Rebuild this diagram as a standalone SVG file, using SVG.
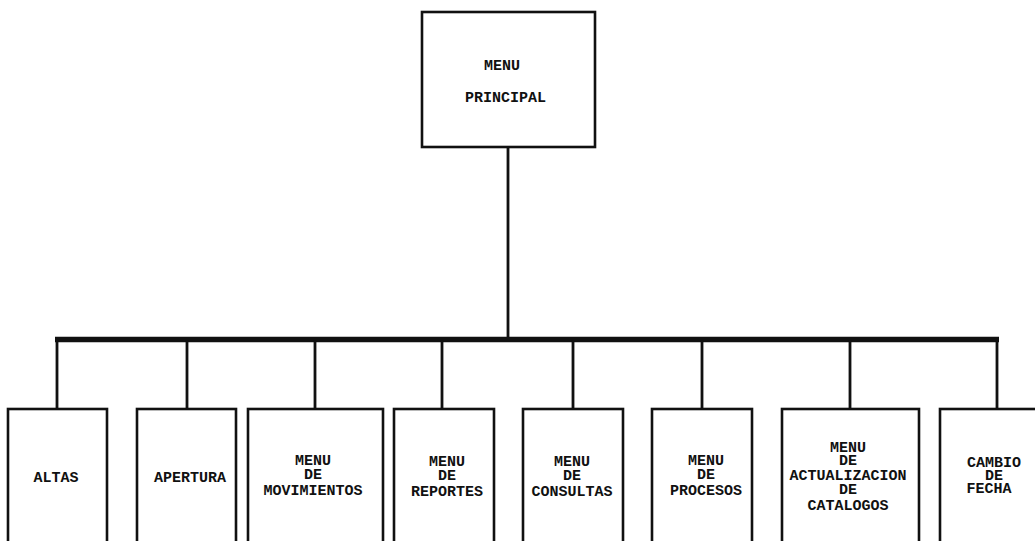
<svg xmlns="http://www.w3.org/2000/svg" width="1035" height="541" viewBox="0 0 1035 541">
  <style>
    .box { fill: #ffffff; stroke: #111111; stroke-width: 2.6; }
    .wire { stroke: #111111; stroke-width: 2.8; fill: none; }
    .bus { stroke: #111111; stroke-width: 5.5; fill: none; }
    .lbl { font-family: "Liberation Mono", "DejaVu Sans Mono", monospace; font-weight: bold; font-size: 15px; fill: #111111; text-anchor: middle; }
    .lbl-start { text-anchor: start; }
  </style>
  <rect width="1035" height="541" fill="#ffffff"/>

  <!-- connectors: stem, bus bar and drops -->
  <g id="connectors">
    <line class="wire" x1="508" y1="147" x2="508" y2="338"/>
    <line class="bus" x1="55" y1="339.5" x2="999" y2="339.5"/>
    <line class="wire" x1="57" y1="340" x2="57" y2="409"/>
    <line class="wire" x1="187" y1="340" x2="187" y2="409"/>
    <line class="wire" x1="315" y1="340" x2="315" y2="409"/>
    <line class="wire" x1="442" y1="340" x2="442" y2="409"/>
    <line class="wire" x1="573" y1="340" x2="573" y2="409"/>
    <line class="wire" x1="702" y1="340" x2="702" y2="409"/>
    <line class="wire" x1="850" y1="340" x2="850" y2="409"/>
    <line class="wire" x1="997" y1="340" x2="997" y2="409"/>
  </g>

  <g id="menu-principal">
    <rect class="box" x="422" y="12" width="173" height="135"/>
    <text class="lbl lbl-start" x="484" y="70">MENU</text>
    <text class="lbl lbl-start" x="465" y="102">PRINCIPAL</text>
  </g>

  <g id="altas">
    <rect class="box" x="8" y="409" width="99" height="150"/>
    <text class="lbl" x="56" y="482">ALTAS</text>
  </g>

  <g id="apertura">
    <rect class="box" x="137" y="409" width="99" height="150"/>
    <text class="lbl" x="190" y="482">APERTURA</text>
  </g>

  <g id="menu-movimientos">
    <rect class="box" x="248" y="409" width="135" height="150"/>
    <text class="lbl" x="313" y="465">MENU</text>
    <text class="lbl" x="313" y="479">DE</text>
    <text class="lbl" x="313" y="495">MOVIMIENTOS</text>
  </g>

  <g id="menu-reportes">
    <rect class="box" x="394" y="409" width="100" height="150"/>
    <text class="lbl" x="447" y="466">MENU</text>
    <text class="lbl" x="447" y="480">DE</text>
    <text class="lbl" x="447" y="496">REPORTES</text>
  </g>

  <g id="menu-consultas">
    <rect class="box" x="523" y="409" width="100" height="150"/>
    <text class="lbl" x="572" y="466">MENU</text>
    <text class="lbl" x="572" y="480">DE</text>
    <text class="lbl" x="572" y="496">CONSULTAS</text>
  </g>

  <g id="menu-procesos">
    <rect class="box" x="652" y="409" width="100" height="150"/>
    <text class="lbl" x="706" y="465">MENU</text>
    <text class="lbl" x="706" y="479">DE</text>
    <text class="lbl" x="706" y="495">PROCESOS</text>
  </g>

  <g id="menu-actualizacion">
    <rect class="box" x="782" y="409" width="137" height="150"/>
    <text class="lbl" x="848" y="452">MENU</text>
    <text class="lbl" x="848" y="465">DE</text>
    <text class="lbl" x="848" y="480">ACTUALIZACION</text>
    <text class="lbl" x="848" y="494">DE</text>
    <text class="lbl" x="848" y="510">CATALOGOS</text>
  </g>

  <g id="cambio-fecha">
    <rect class="box" x="940" y="409" width="110" height="150"/>
    <text class="lbl" x="994" y="467">CAMBIO</text>
    <text class="lbl" x="994" y="480">DE</text>
    <text class="lbl" x="989" y="493">FECHA</text>
  </g>
</svg>
